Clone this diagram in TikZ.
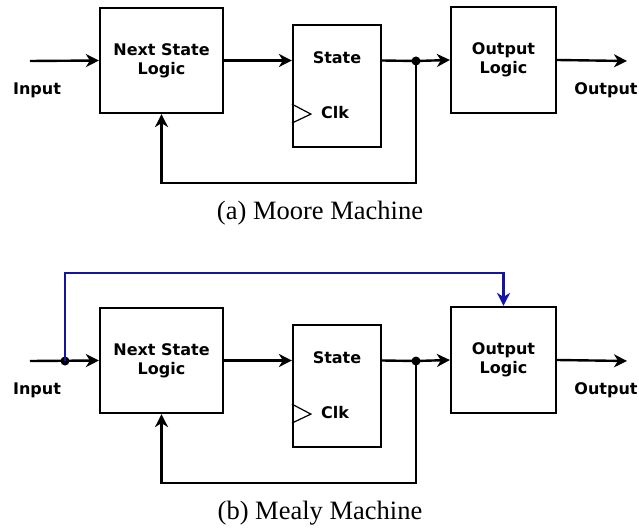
\documentclass[tikz,border=0pt]{standalone}
\usepackage{fontspec}
\setmainfont{Liberation Serif}
\newfontfamily\blockfont{DejaVu Sans}
\usetikzlibrary{arrows.meta,positioning}

\tikzset{
  block/.style={draw, line width=2.2pt, inner sep=0pt, align=center, font=\blockfont\bfseries\fontsize{16}{19}\selectfont},
  tag/.style={font=\blockfont\bfseries\fontsize{16}{19}\selectfont},
  wire/.style={line width=2.4pt, -{Stealth[length=13pt,width=13pt,inset=4pt]}},
  line/.style={line width=2.4pt},
  joint/.style={circle, fill=black, inner sep=0pt, minimum size=9pt},
  caption/.style={font=\fontsize{26.5}{30}\selectfont},
}
\definecolor{mealyblue}{RGB}{20,20,165}

\begin{document}
\begin{tikzpicture}[x=1pt, y=-1pt]
\useasboundingbox (0,0) rectangle (639,529);

% (a) Moore machine
\node[block, minimum width=123pt, minimum height=105pt] (a-next) at (161.5,60.5) {Next State\\Logic};
\node[block, minimum width=88pt, minimum height=122pt] (a-state) at (337,86) {};
\node[block, minimum width=105pt, minimum height=106pt] (a-out) at (503.5,60) {Output\\Logic};
\node[tag] (a-statetxt) at (337,58) {State};
\node[tag] (a-clk) at (335,113) {Clk};
\node[tag] (a-input) at (37,90) {Input};
\node[tag] (a-output) at (606,90) {Output};
\coordinate (a-in) at (30,61);
\coordinate (a-end) at (627,61);
\node[joint] (a-dot) at (416,61) {};
\draw[line width=1.2pt] ([yshift=44pt]a-state.south west) -- ([xshift=19pt, yshift=34pt]a-state.south west) -- ([yshift=25pt]a-state.south west);
\draw[wire] (a-in) -- (a-next.west);
\draw[wire] (a-next.east) -- (a-next.east -| a-state.west);
\draw[line] (a-next.east -| a-state.east) -- (a-dot.center);
\draw[wire] (a-dot.center) -- (a-out.west);
\draw[wire] (a-out.east) -- (a-end);
\draw[wire] (a-dot.center) -- ++(0,122) -| (a-next.south);
\node[caption] (a-cap) at (320,213) {(a) Moore Machine};

% (b) Mealy machine
\node[block, minimum width=123pt, minimum height=105pt] (b-next) at (161.5,360.5) {Next State\\Logic};
\node[block, minimum width=88pt, minimum height=122pt] (b-state) at (337,386) {};
\node[block, minimum width=105pt, minimum height=106pt] (b-out) at (503.5,360) {Output\\Logic};
\node[tag] (b-statetxt) at (337,358) {State};
\node[tag] (b-clk) at (335,413) {Clk};
\node[tag] (b-input) at (37,390) {Input};
\node[tag] (b-output) at (606,390) {Output};
\coordinate (b-in) at (30,361);
\coordinate (b-end) at (627,361);
\node[joint] (b-dot) at (416,361) {};
\node[joint] (b-idot) at (65,361) {};
\draw[line width=1.2pt] ([yshift=44pt]b-state.south west) -- ([xshift=19pt, yshift=34pt]b-state.south west) -- ([yshift=25pt]b-state.south west);
\draw[wire] (b-in) -- (b-next.west);
\draw[wire] (b-next.east) -- (b-next.east -| b-state.west);
\draw[line] (b-next.east -| b-state.east) -- (b-dot.center);
\draw[wire] (b-dot.center) -- (b-out.west);
\draw[wire] (b-out.east) -- (b-end);
\draw[wire] (b-dot.center) -- ++(0,122) -| (b-next.south);
\draw[wire, draw=mealyblue] (b-idot.center) -- ++(0,-88) -| (b-out.north);
\node[caption] (b-cap) at (320,513) {(b) Mealy Machine};
\end{tikzpicture}
\end{document}
